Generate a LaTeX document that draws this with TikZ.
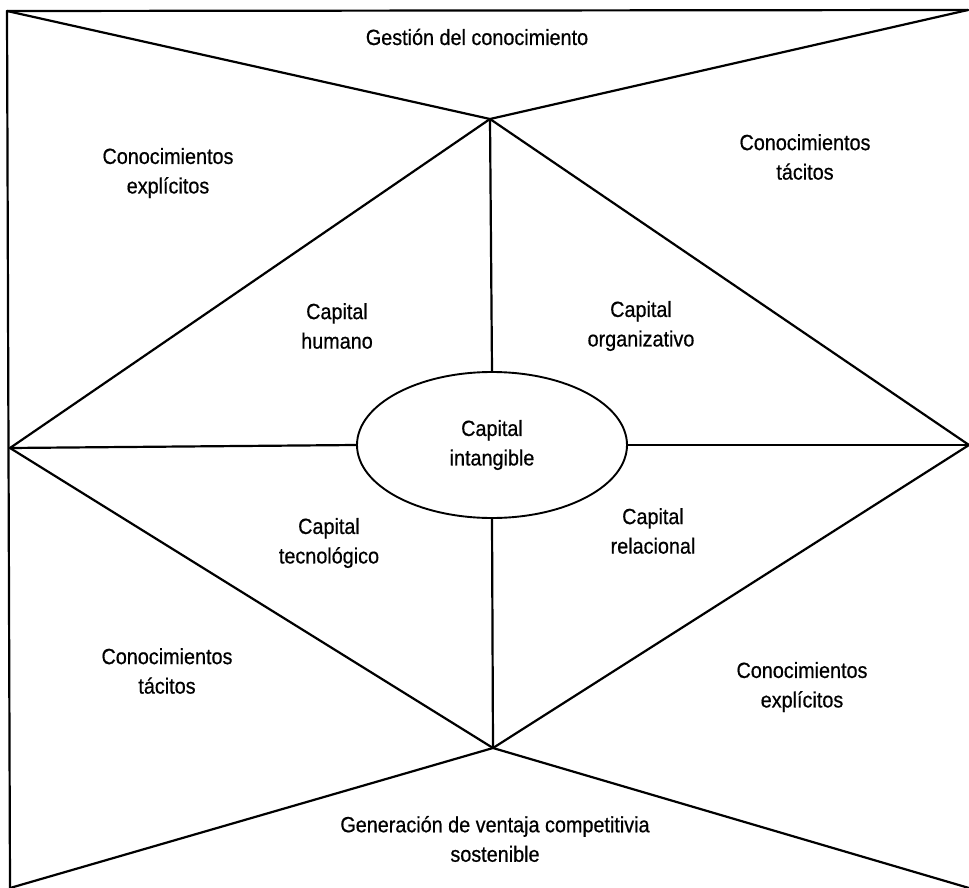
\documentclass[tikz,border=0pt]{standalone}
\usepackage{fontspec}
\setmainfont{Liberation Sans}[FakeStretch=0.9,FakeBold=0.6]
\usetikzlibrary{shapes.geometric}
\begin{document}
\begin{tikzpicture}[x=1pt,y=-1pt,
  edge/.style={line width=2.2pt, line cap=round, line join=round},
  lbl/.style={align=center, font=\fontsize{22}{29.5}\selectfont, inner sep=0pt}]
\useasboundingbox (0,0) rectangle (969,888);
\coordinate (TL) at (7,11);
\coordinate (TR) at (968,10);
\coordinate (BL) at (10,888);
\coordinate (BR) at (969,888);
\coordinate (T) at (490,119);
\coordinate (B) at (493,748);
\coordinate (L) at (10,448);
\coordinate (R) at (969,445);
\node[draw, ellipse, line width=1.9pt, minimum width=270pt, minimum height=146pt, inner sep=0pt, lbl] (ci) at (492,445) {Capital\\intangible};
% frame
\draw[edge] (TR) -- (TL) -- (BL);
% hourglass
\draw[edge] (TL) -- (T) -- (TR);
\draw[edge] (BL) -- (B) -- (BR);
% diamond
\draw[edge] (L) -- (T) -- (R) -- (B) -- cycle;
% spokes
\draw[edge] (T) -- (ci.north);
\draw[edge] (B) -- (ci.south);
\draw[edge] (L) -- (ci.west);
\draw[edge] (R) -- (ci.east);
% labels
\node[lbl] (g) at (477,37) {Gestión del conocimiento};
\node[lbl] (ul) at (168,173) {Conocimientos\\explícitos};
\node[lbl] (ur) at (805,157) {Conocimientos\\tácitos};
\node[lbl] (ch) at (337,326) {Capital\\humano};
\node[lbl] (co) at (641,326) {Capital\\organizativo};
\node[lbl] (ct) at (329,543) {Capital\\tecnológico};
\node[lbl] (cr) at (653,531) {Capital\\relacional};
\node[lbl] (ll) at (167,671) {Conocimientos\\tácitos};
\node[lbl] (lr) at (802,687) {Conocimientos\\explícitos};
\node[lbl] (gv) at (495,839) {Generación de ventaja competitivia\\sostenible};
\end{tikzpicture}
\end{document}
